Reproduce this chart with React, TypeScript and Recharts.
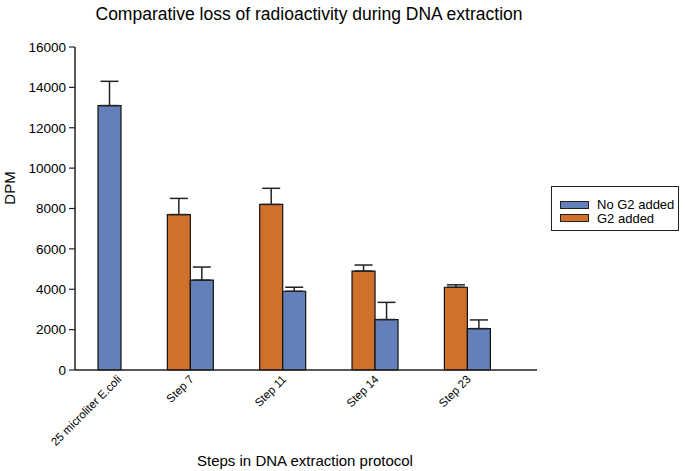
import React from "react";
import { BarChart, Bar, XAxis, YAxis, ErrorBar } from "recharts";

const categories = ["25 microliter E.coli", "Step 7", "Step 11", "Step 14", "Step 23"];
const noG2 = [13100, 4450, 3900, 2500, 2050];
const noG2Err = [1200, 650, 200, 850, 430];
const g2 = [null, 7700, 8200, 4900, 4100];
const g2Err = [null, 800, 800, 300, 120];
const yTicks = [0, 2000, 4000, 6000, 8000, 10000, 12000, 14000, 16000];
const seriesNames = ["No G2 added", "G2 added"];

const BLUE = "#6480b8";
const ORANGE = "#cf702b";
const FONT = "'Liberation Sans', Arial, sans-serif";

const data = categories.map((c, i) => ({
  x: i,
  name: c,
  noG2: noG2[i],
  noG2Err: [0, noG2Err[i]],
  g2: g2[i],
  g2Err: g2[i] == null ? undefined : [0, g2Err[i] as number],
}));

const CategoryTick = (props: any) => {
  const { x, y, payload } = props;
  const i = payload.value as number;
  const dx = i === 0 ? 24 : 4;
  return (
    <g transform={`translate(${x + dx},${y + 2})`}>
      <text
        transform="rotate(-45)"
        textAnchor="end"
        fontSize={11.5}
        fontFamily={FONT}
        fill="#000"
      >
        {categories[i]}
      </text>
    </g>
  );
};

export default function App() {
  return (
    <div style={{ position: "absolute", left: 0, top: 0, width: 685, height: 471, background: "#fff" }}>
      <BarChart
        width={685}
        height={471}
        data={data}
        margin={{ top: 47, right: 148, bottom: 11, left: 10 }}
        barGap={0}
        barSize={23}
      >
        <text x={309} y={20} textAnchor="middle" fontSize={17.5} fontFamily={FONT} fill="#000">
          Comparative loss of radioactivity during DNA extraction
        </text>
        <text x={305} y={466} textAnchor="middle" fontSize={15} fontFamily={FONT} fill="#000">
          Steps in DNA extraction protocol
        </text>
        <text
          x={15}
          y={188}
          textAnchor="middle"
          fontSize={15}
          fontFamily={FONT}
          fill="#000"
          transform="rotate(-90 15 188)"
        >
          DPM
        </text>
        <XAxis
          dataKey="x"
          type="number"
          domain={[-0.251, 4.752]}
          ticks={[0, 1, 2, 3, 4]}
          allowDataOverflow
          tickLine={false}
          tick={<CategoryTick />}
          axisLine={{ stroke: "#222", strokeWidth: 1.5 }}
          height={90}
          interval={0}
        />
        <XAxis
          xAxisId="top"
          orientation="top"
          dataKey="x"
          type="number"
          domain={[-0.251, 4.752]}
          tick={false}
          tickLine={false}
          height={0}
          axisLine={{ stroke: "#222", strokeWidth: 1.5 }}
        />
        <YAxis
          domain={[0, 16000]}
          ticks={yTicks}
          width={65}
          tickSize={6}
          tickMargin={3}
          interval={0}
          axisLine={{ stroke: "#222", strokeWidth: 1.5 }}
          tickLine={{ stroke: "#222", strokeWidth: 1.2 }}
          tick={{ fill: "#000", fontSize: 13.5, fontFamily: FONT }}
        />
        <YAxis
          yAxisId="right"
          orientation="right"
          domain={[0, 16000]}
          width={0}
          tick={false}
          tickLine={false}
          axisLine={{ stroke: "#222", strokeWidth: 1.5 }}
        />
        <Bar dataKey="g2" name={seriesNames[1]} fill={ORANGE} stroke="#111" strokeWidth={1.2} isAnimationActive={false}>
          <ErrorBar dataKey="g2Err" width={9} stroke="#222" strokeWidth={1.5} />
        </Bar>
        <Bar dataKey="noG2" name={seriesNames[0]} fill={BLUE} stroke="#111" strokeWidth={1.2} isAnimationActive={false}>
          <ErrorBar dataKey="noG2Err" width={9} stroke="#222" strokeWidth={1.5} />
        </Bar>
      </BarChart>
      <div
        style={{
          position: "absolute",
          left: 551,
          top: 186,
          width: 128,
          height: 45,
          border: "1.2px solid #222",
          boxSizing: "border-box",
          fontFamily: FONT,
          fontSize: 13,
          color: "#000",
          paddingTop: 11,
          paddingLeft: 8,
        }}
      >
        {seriesNames.map((n, i) => (
          <div key={n} style={{ display: "flex", alignItems: "center", height: 13.5, lineHeight: "13.5px" }}>
            <span
              style={{
                display: "inline-block",
                width: 29,
                height: 8,
                background: i === 0 ? BLUE : ORANGE,
                border: "1px solid #222",
                boxSizing: "border-box",
                marginRight: 8,
              }}
            />
            {n}
          </div>
        ))}
      </div>
    </div>
  );
}
